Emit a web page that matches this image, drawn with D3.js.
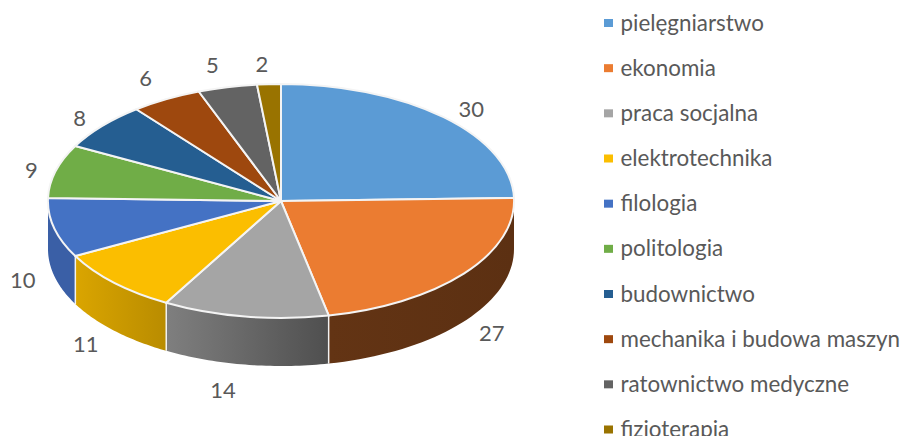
<!DOCTYPE html>
<html>
<head>
<meta charset="utf-8">
<script src="https://cdn.jsdelivr.net/npm/d3@7"></script>
<style>
  html, body { margin: 0; padding: 0; background: #fff; overflow: hidden; }
  text { font-family: Lato, "Open Sans", sans-serif; fill: #595959; }
</style>
</head>
<body>
<div id="chart"></div>
<script>
// Values
const categories = ["pielęgniarstwo", "ekonomia", "praca socjalna", "elektrotechnika", "filologia",
    "politologia", "budownictwo", "mechanika i budowa maszyn", "ratownictwo medyczne", "fizjoterapia"];
const values = [30, 27, 14, 11, 10, 9, 8, 6, 5, 2];

const colors = ["#5b9bd5", "#eb7c31", "#a5a5a5", "#fbbe00", "#4472c4",
    "#70ad47", "#255e91", "#9e480e", "#636363", "#997300"];
// left and right colour of the visible outer wall
const wallColors = {
    "ekonomia": ["#633414", "#5c3012"],
    "praca socjalna": ["#7f7f7f", "#4f4f4f"],
    "elektrotechnika": ["#daa500", "#b98c00"],
    "filologia": ["#3a5fa6", "#3a5fa6"]
};

// Small corrections to the label positions, same order as categories
const labelNudge = [[0, 0], [-3, 4], [-16, 13], [0, 5], [7, 1], [14, 1], [8, -1], [-1, -11], [-6, -11], [-5, -9]];

const width = 904;
const height = 436;
const cx = 281, cy = 201, rx = 233, ry = 117, depth = 48;

const svg = d3.select("#chart").append("svg")
    .attr("width", width)
    .attr("height", height)
    .style("display", "block");

const slices = d3.pie().sort(null).value(d => d)(values);
const color = d3.scaleOrdinal().domain(categories).range(colors);

// Ellipse point for a pie angle (0 = up, clockwise)
const px = a => cx + rx * Math.sin(a);
const py = a => cy - ry * Math.cos(a);

const defs = svg.append("defs");
const wallLine = d3.line().x(d => d[0]).y(d => d[1]);

// Outer walls, only the part of each slice facing the viewer
slices.forEach((s, i) => {
    const a0 = Math.max(s.startAngle, Math.PI / 2);
    const a1 = Math.min(s.endAngle, Math.PI * 1.5);
    if (a1 <= a0) return;
    const name = categories[i];
    const steps = d3.range(0, 41).map(k => a0 + (a1 - a0) * k / 40);
    const top = steps.map(a => [px(a), py(a)]);
    const bottom = steps.map(a => [px(a), py(a) + depth]).reverse();

    const grad = defs.append("linearGradient")
        .attr("id", "wall" + i)
        .attr("gradientUnits", "userSpaceOnUse")
        .attr("x1", Math.min(px(a0), px(a1))).attr("x2", Math.max(px(a0), px(a1)))
        .attr("y1", 0).attr("y2", 0);
    const pair = wallColors[name];
    grad.append("stop").attr("offset", 0).attr("stop-color", pair[0]);
    grad.append("stop").attr("offset", 1).attr("stop-color", pair[1]);

    svg.append("path")
        .attr("d", wallLine(top.concat(bottom)) + "Z")
        .attr("fill", `url(#wall${i})`);

    // white seam between walls
    if (a0 === s.startAngle && a0 > Math.PI / 2) {
        svg.append("line").attr("class", "seam")
            .attr("x1", px(a0)).attr("y1", py(a0))
            .attr("x2", px(a0)).attr("y2", py(a0) + depth)
            .attr("stroke", "#f2f2f2").attr("stroke-width", 1.5);
    }
});

// Top face: unit pie squashed into the ellipse
const arc = d3.arc().innerRadius(0).outerRadius(1);
svg.append("g")
    .attr("transform", `translate(${cx},${cy}) scale(${rx},${ry})`)
    .selectAll("path")
    .data(slices)
    .join("path")
    .attr("d", arc)
    .attr("fill", (d, i) => color(categories[i]))
    .attr("stroke", "#f4f4f4")
    .attr("stroke-width", 2)
    .attr("stroke-linejoin", "round")
    .attr("vector-effect", "non-scaling-stroke");

// Value labels
svg.append("g").selectAll("text")
    .data(slices)
    .join("text")
    .attr("x", (d, i) => cx + 1.17 * rx * Math.sin((d.startAngle + d.endAngle) / 2) + labelNudge[i][0])
    .attr("y", (d, i) => {
        const a = (d.startAngle + d.endAngle) / 2;
        const front = Math.cos(a) < 0 ? depth : 0;
        return cy - 1.1 * ry * Math.cos(a) + front + labelNudge[i][1];
    })
    .attr("text-anchor", "middle")
    .attr("dominant-baseline", "central")
    .style("font-size", "22px")
    .text(d => d.data);

// Legend, the last row is cut by the bottom edge as in the reference
const legendY = d3.scalePoint().domain(categories).range([23.5, 430]);
const legend = svg.append("g").selectAll("g")
    .data(categories)
    .join("g")
    .attr("transform", d => `translate(604,${legendY(d)})`);

legend.append("rect")
    .attr("x", 0).attr("y", -4.5)
    .attr("width", 9).attr("height", 8)
    .attr("fill", d => color(d));

legend.append("text")
    .attr("x", 16.5)
    .attr("y", -1.5)
    .attr("dominant-baseline", "central")
    .style("font-size", "22.4px")
    .text(d => d);
</script>
</body>
</html>
